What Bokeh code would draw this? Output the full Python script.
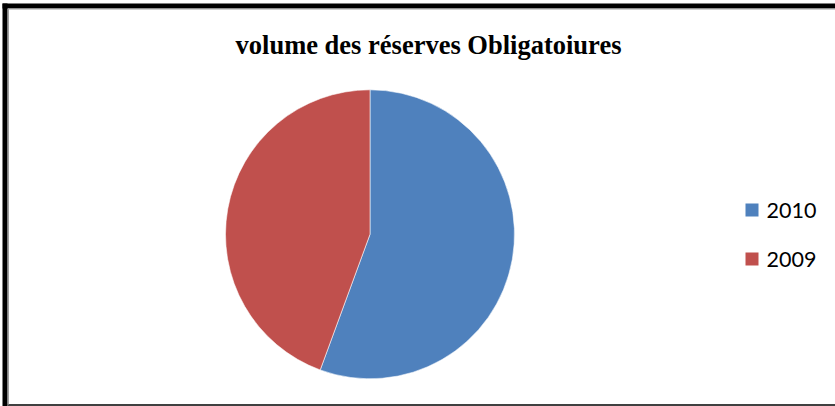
import numpy as np
from bokeh.plotting import figure
from bokeh.models import Range1d, ColumnDataSource
from bokeh.core.properties import value
from bokeh.embed import file_html
from bokeh.resources import INLINE

# data
categories = ["2010", "2009"]
shares = [55.6, 44.4]
colors = ["#4F81BD", "#C0504D"]
title_text = "volume des réserves Obligatoiures"

W, H = 835, 406
p = figure(width=W, height=H, output_backend="svg", toolbar_location=None,
           x_range=Range1d(0, W), y_range=Range1d(0, H), min_border=0)
p.axis.visible = False
p.grid.visible = False
p.outline_line_color = None
p.background_fill_color = "white"
p.border_fill_color = "white"

# pie
vals = np.array(shares, dtype=float)
frac = vals / vals.sum()
ends = np.cumsum(frac) * 2 * np.pi
starts = np.concatenate([[0], ends[:-1]])
src = ColumnDataSource(dict(
    cat=categories,
    start=np.pi / 2 - starts,
    end=np.pi / 2 - ends,
    color=colors,
))
cx, cy, r = 369.5, H - 233.8, 144.5
p.wedge(x=cx, y=cy, radius=r, start_angle="start", end_angle="end",
        direction="clock", fill_color="color", line_color="white",
        line_width=0.8, line_alpha=0.7, source=src)

# legend
ly = [H - 209.5, H - 258.5]
lsrc = ColumnDataSource(dict(x=[751.5] * 2, y=ly, tx=[766] * 2, cat=categories, color=colors))
p.rect(x="x", y="y", width=13, height=13, fill_color="color", line_color=None, source=lsrc)
p.text(x="tx", y="y", text="cat", text_font=value("Lato"), text_font_size="21.5px",
       text_baseline="middle", text_align="left", text_color="black", source=lsrc)

# title
p.text(x=[428], y=[H - 44], text=[title_text], text_font=value("Liberation Serif"),
       text_font_style="bold", text_font_size="26.5px", text_align="center",
       text_baseline="middle", text_color="black")

# frame
p.quad(left=[2, 2], right=[W, 7], bottom=[H - 8, 0], top=[H - 3, H - 3],
       fill_color="black", line_color=None)
p.quad(left=[7], right=[W], bottom=[0], top=[2.5], fill_color="#404040", line_color=None)
p.line(x=[8, 8], y=[2, H - 8], line_color="#a0a0a0", line_width=1)
p.line(x=[8, W], y=[H - 8.5, H - 8.5], line_color="#a0a0a0", line_width=1)

open("out.html", "w").write(file_html(p, INLINE))
